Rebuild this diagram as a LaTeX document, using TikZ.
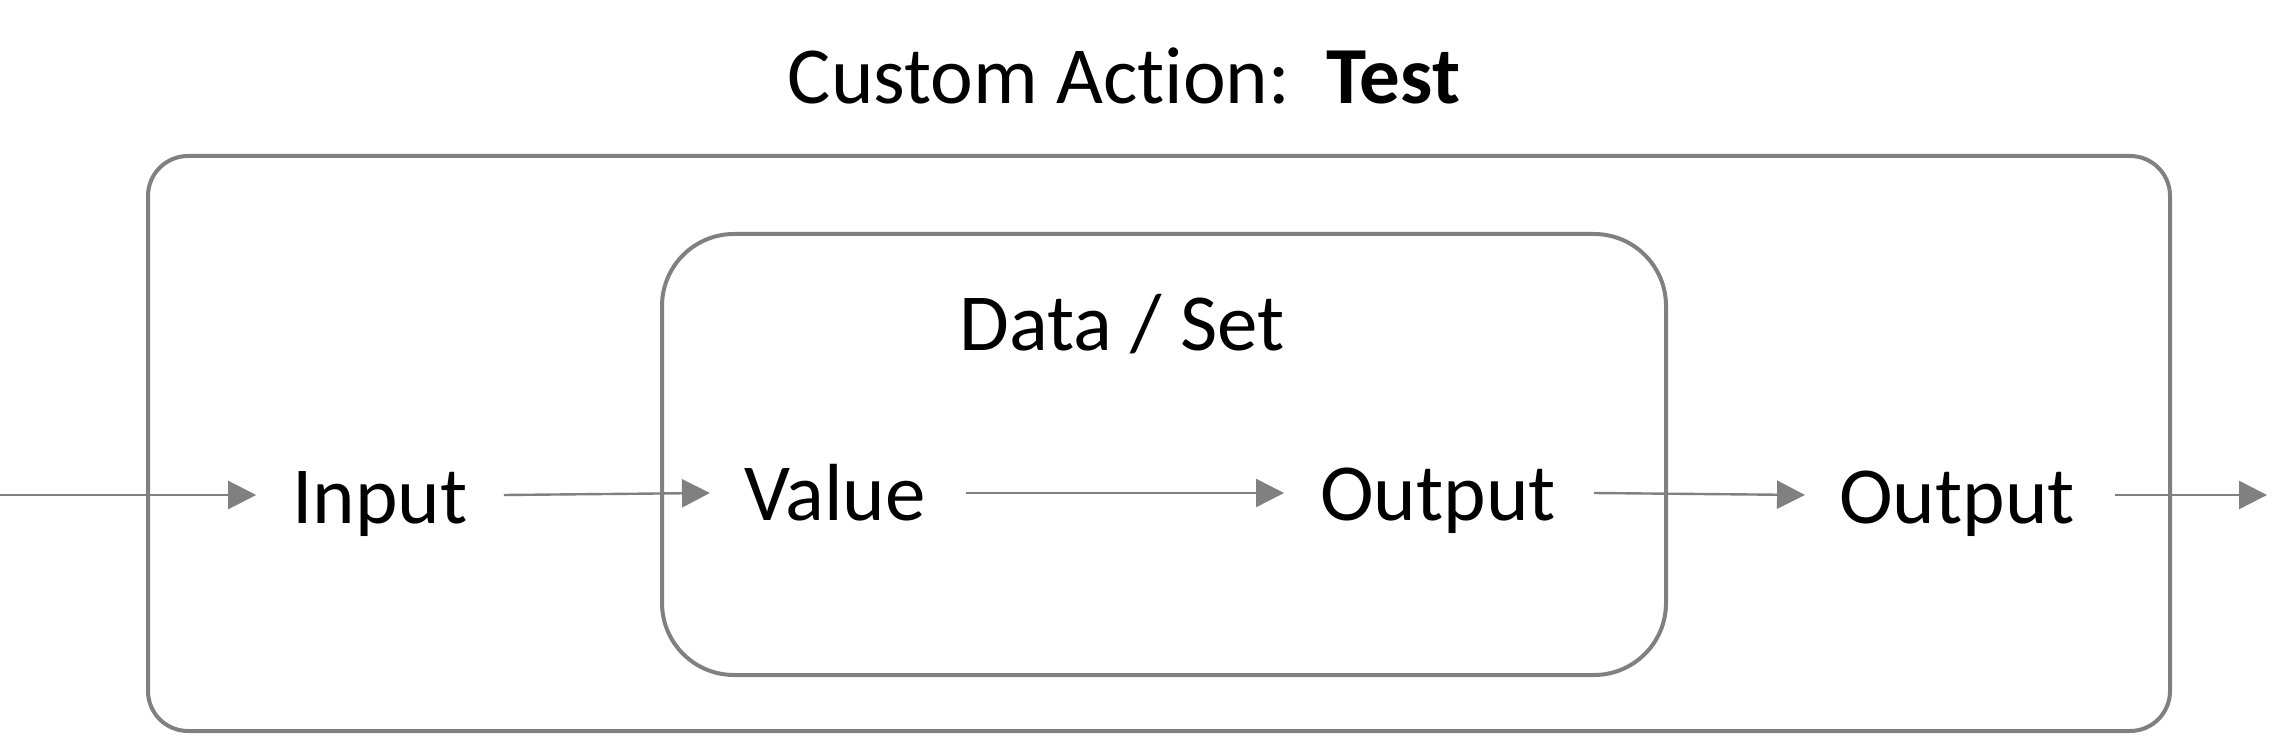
\documentclass[tikz,border=0pt]{standalone}
\usepackage{fontspec}
\setmainfont{Carlito}[Ligatures={NoCommon,NoRare},RawFeature={-calt;-clig}]
\usetikzlibrary{arrows.meta,calc}
\definecolor{linegray}{HTML}{808080}
\tikzset{
 box/.style={draw=linegray, line width=4pt, rounded corners=#1, inner sep=0pt},
 lbl/.style={font=\fontsize{81}{96}\selectfont, inner sep=0pt, anchor=base, text=black},
 conn/.style={draw=linegray, line width=2.4pt, -{Triangle[length=28pt,width=28pt]}},
}
\begin{document}
\begin{tikzpicture}[x=1pt,y=1pt]
\useasboundingbox (0,0) rectangle (2296,737);
\node[box=40pt, minimum width=2022pt, minimum height=575pt] (outer) at (1159,293.5) {};
\node[box=72pt, minimum width=1004pt, minimum height=441pt] (inner) at (1164,282.5) {};
\node[lbl] (title) at (1124,633) {Custom Act\kern0pt ion:\ \ \textbf{Test}};
\node[lbl] (ds) at (1122,386) {Data / Set};
\node[lbl] (inp) at (380,214) {Input};
\node[lbl] (val) at (835,217) {Value};
\node[lbl] (out1) at (1438,217) {Output};
\node[lbl] (out2) at (1957,214) {Output};
\coordinate (start) at (0,242);
\coordinate (end) at (2267,242);
\draw[conn] (start) -- ([shift={(-36pt,28pt)}]inp.base west);
\draw[conn] ([shift={(36pt,28pt)}]inp.base east) -- ([shift={(-34pt,27pt)}]val.base west);
\draw[conn] ([shift={(40pt,27pt)}]val.base east) -- ([shift={(-36pt,27pt)}]out1.base west);
\draw[conn] ([shift={(38pt,27pt)}]out1.base east) -- ([shift={(-34pt,28pt)}]out2.base west);
\draw[conn] ([shift={(40pt,28pt)}]out2.base east) -- (end);
\end{tikzpicture}
\end{document}
